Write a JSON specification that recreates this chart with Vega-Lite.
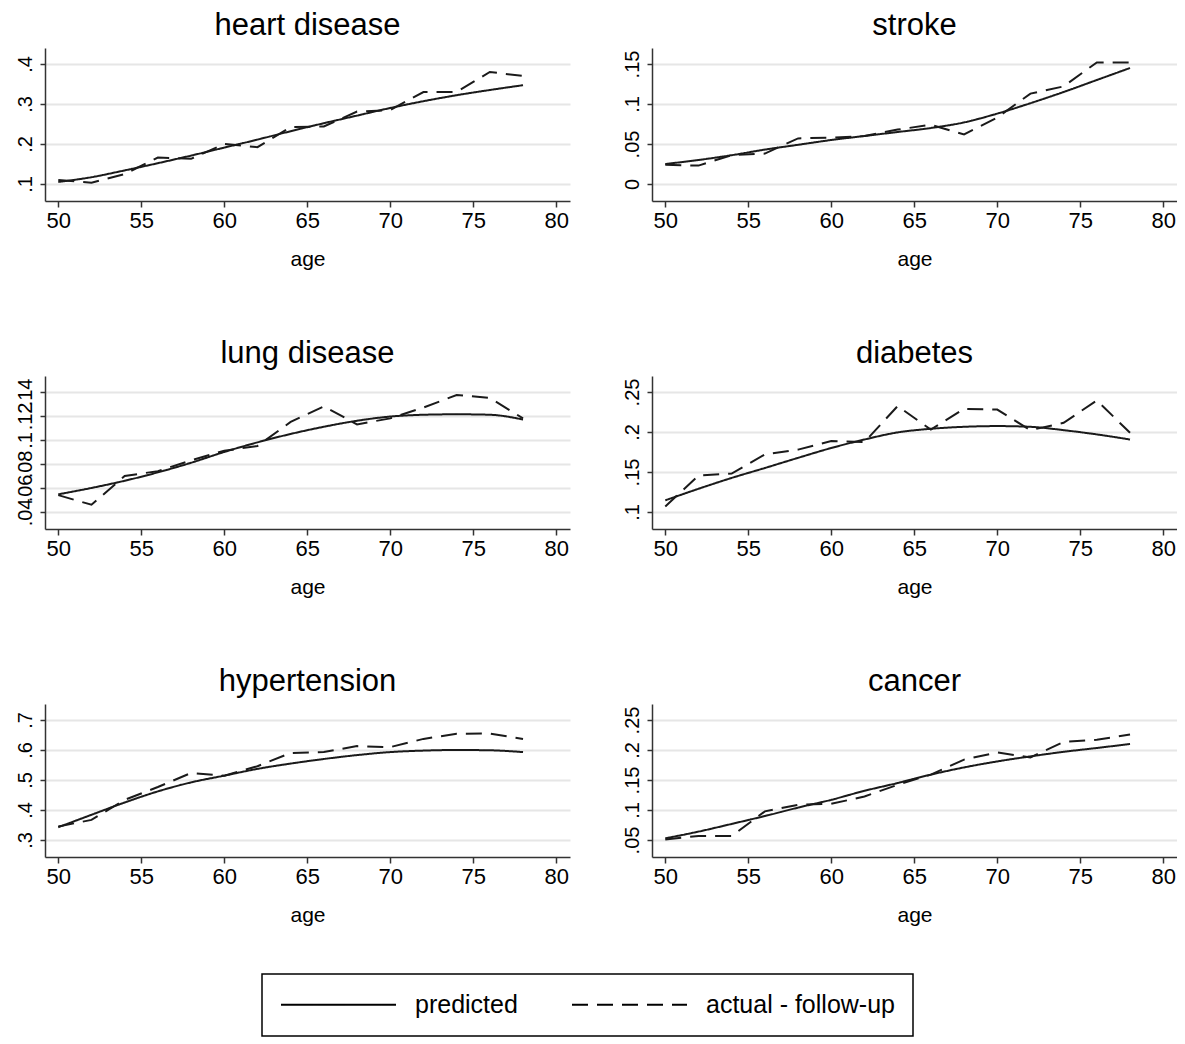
{
  "$schema": "https://vega.github.io/schema/vega-lite/v6.json",
  "padding": {"left": 15, "top": 10, "right": 0, "bottom": 0},
  "background": "white",
  "data": {"values": [
    {"disease":"heart disease","age":50,"series":"predicted","value":0.105},
    {"disease":"heart disease","age":52,"series":"predicted","value":0.117},
    {"disease":"heart disease","age":54,"series":"predicted","value":0.134},
    {"disease":"heart disease","age":56,"series":"predicted","value":0.152},
    {"disease":"heart disease","age":58,"series":"predicted","value":0.171},
    {"disease":"heart disease","age":60,"series":"predicted","value":0.191},
    {"disease":"heart disease","age":62,"series":"predicted","value":0.211},
    {"disease":"heart disease","age":64,"series":"predicted","value":0.232},
    {"disease":"heart disease","age":66,"series":"predicted","value":0.252},
    {"disease":"heart disease","age":68,"series":"predicted","value":0.271},
    {"disease":"heart disease","age":70,"series":"predicted","value":0.290},
    {"disease":"heart disease","age":72,"series":"predicted","value":0.307},
    {"disease":"heart disease","age":74,"series":"predicted","value":0.322},
    {"disease":"heart disease","age":76,"series":"predicted","value":0.335},
    {"disease":"heart disease","age":78,"series":"predicted","value":0.347},
    {"disease":"heart disease","age":50,"series":"actual - follow-up","value":0.110},
    {"disease":"heart disease","age":52,"series":"actual - follow-up","value":0.103},
    {"disease":"heart disease","age":54,"series":"actual - follow-up","value":0.125},
    {"disease":"heart disease","age":56,"series":"actual - follow-up","value":0.166},
    {"disease":"heart disease","age":58,"series":"actual - follow-up","value":0.163},
    {"disease":"heart disease","age":60,"series":"actual - follow-up","value":0.200},
    {"disease":"heart disease","age":62,"series":"actual - follow-up","value":0.192},
    {"disease":"heart disease","age":64,"series":"actual - follow-up","value":0.242},
    {"disease":"heart disease","age":66,"series":"actual - follow-up","value":0.244},
    {"disease":"heart disease","age":68,"series":"actual - follow-up","value":0.281},
    {"disease":"heart disease","age":70,"series":"actual - follow-up","value":0.285},
    {"disease":"heart disease","age":72,"series":"actual - follow-up","value":0.330},
    {"disease":"heart disease","age":74,"series":"actual - follow-up","value":0.330},
    {"disease":"heart disease","age":76,"series":"actual - follow-up","value":0.380},
    {"disease":"heart disease","age":78,"series":"actual - follow-up","value":0.370},

    {"disease":"stroke","age":50,"series":"predicted","value":0.025},
    {"disease":"stroke","age":52,"series":"predicted","value":0.030},
    {"disease":"stroke","age":54,"series":"predicted","value":0.036},
    {"disease":"stroke","age":56,"series":"predicted","value":0.043},
    {"disease":"stroke","age":58,"series":"predicted","value":0.049},
    {"disease":"stroke","age":60,"series":"predicted","value":0.055},
    {"disease":"stroke","age":62,"series":"predicted","value":0.060},
    {"disease":"stroke","age":64,"series":"predicted","value":0.065},
    {"disease":"stroke","age":66,"series":"predicted","value":0.070},
    {"disease":"stroke","age":68,"series":"predicted","value":0.077},
    {"disease":"stroke","age":70,"series":"predicted","value":0.088},
    {"disease":"stroke","age":72,"series":"predicted","value":0.101},
    {"disease":"stroke","age":74,"series":"predicted","value":0.115},
    {"disease":"stroke","age":76,"series":"predicted","value":0.130},
    {"disease":"stroke","age":78,"series":"predicted","value":0.145},
    {"disease":"stroke","age":50,"series":"actual - follow-up","value":0.024},
    {"disease":"stroke","age":52,"series":"actual - follow-up","value":0.023},
    {"disease":"stroke","age":54,"series":"actual - follow-up","value":0.036},
    {"disease":"stroke","age":56,"series":"actual - follow-up","value":0.038},
    {"disease":"stroke","age":58,"series":"actual - follow-up","value":0.057},
    {"disease":"stroke","age":60,"series":"actual - follow-up","value":0.058},
    {"disease":"stroke","age":62,"series":"actual - follow-up","value":0.060},
    {"disease":"stroke","age":64,"series":"actual - follow-up","value":0.068},
    {"disease":"stroke","age":66,"series":"actual - follow-up","value":0.074},
    {"disease":"stroke","age":68,"series":"actual - follow-up","value":0.062},
    {"disease":"stroke","age":70,"series":"actual - follow-up","value":0.083},
    {"disease":"stroke","age":72,"series":"actual - follow-up","value":0.113},
    {"disease":"stroke","age":74,"series":"actual - follow-up","value":0.122},
    {"disease":"stroke","age":76,"series":"actual - follow-up","value":0.152},
    {"disease":"stroke","age":78,"series":"actual - follow-up","value":0.152},

    {"disease":"lung disease","age":50,"series":"predicted","value":0.0547},
    {"disease":"lung disease","age":52,"series":"predicted","value":0.060},
    {"disease":"lung disease","age":54,"series":"predicted","value":0.066},
    {"disease":"lung disease","age":56,"series":"predicted","value":0.073},
    {"disease":"lung disease","age":58,"series":"predicted","value":0.081},
    {"disease":"lung disease","age":60,"series":"predicted","value":0.090},
    {"disease":"lung disease","age":62,"series":"predicted","value":0.098},
    {"disease":"lung disease","age":64,"series":"predicted","value":0.105},
    {"disease":"lung disease","age":66,"series":"predicted","value":0.111},
    {"disease":"lung disease","age":68,"series":"predicted","value":0.116},
    {"disease":"lung disease","age":70,"series":"predicted","value":0.1195},
    {"disease":"lung disease","age":72,"series":"predicted","value":0.121},
    {"disease":"lung disease","age":74,"series":"predicted","value":0.1214},
    {"disease":"lung disease","age":76,"series":"predicted","value":0.121},
    {"disease":"lung disease","age":78,"series":"predicted","value":0.117},
    {"disease":"lung disease","age":50,"series":"actual - follow-up","value":0.054},
    {"disease":"lung disease","age":52,"series":"actual - follow-up","value":0.046},
    {"disease":"lung disease","age":54,"series":"actual - follow-up","value":0.070},
    {"disease":"lung disease","age":56,"series":"actual - follow-up","value":0.074},
    {"disease":"lung disease","age":58,"series":"actual - follow-up","value":0.083},
    {"disease":"lung disease","age":60,"series":"actual - follow-up","value":0.091},
    {"disease":"lung disease","age":62,"series":"actual - follow-up","value":0.095},
    {"disease":"lung disease","age":64,"series":"actual - follow-up","value":0.115},
    {"disease":"lung disease","age":66,"series":"actual - follow-up","value":0.128},
    {"disease":"lung disease","age":68,"series":"actual - follow-up","value":0.113},
    {"disease":"lung disease","age":70,"series":"actual - follow-up","value":0.118},
    {"disease":"lung disease","age":72,"series":"actual - follow-up","value":0.127},
    {"disease":"lung disease","age":74,"series":"actual - follow-up","value":0.1375},
    {"disease":"lung disease","age":76,"series":"actual - follow-up","value":0.135},
    {"disease":"lung disease","age":78,"series":"actual - follow-up","value":0.118},

    {"disease":"diabetes","age":50,"series":"predicted","value":0.1146},
    {"disease":"diabetes","age":52,"series":"predicted","value":0.129},
    {"disease":"diabetes","age":54,"series":"predicted","value":0.1426},
    {"disease":"diabetes","age":56,"series":"predicted","value":0.155},
    {"disease":"diabetes","age":58,"series":"predicted","value":0.1677},
    {"disease":"diabetes","age":60,"series":"predicted","value":0.180},
    {"disease":"diabetes","age":62,"series":"predicted","value":0.1906},
    {"disease":"diabetes","age":64,"series":"predicted","value":0.1995},
    {"disease":"diabetes","age":66,"series":"predicted","value":0.204},
    {"disease":"diabetes","age":68,"series":"predicted","value":0.2065},
    {"disease":"diabetes","age":70,"series":"predicted","value":0.2074},
    {"disease":"diabetes","age":72,"series":"predicted","value":0.2065},
    {"disease":"diabetes","age":74,"series":"predicted","value":0.2023},
    {"disease":"diabetes","age":76,"series":"predicted","value":0.197},
    {"disease":"diabetes","age":78,"series":"predicted","value":0.1906},
    {"disease":"diabetes","age":50,"series":"actual - follow-up","value":0.107},
    {"disease":"diabetes","age":52,"series":"actual - follow-up","value":0.1455},
    {"disease":"diabetes","age":54,"series":"actual - follow-up","value":0.148},
    {"disease":"diabetes","age":56,"series":"actual - follow-up","value":0.172},
    {"disease":"diabetes","age":58,"series":"actual - follow-up","value":0.178},
    {"disease":"diabetes","age":60,"series":"actual - follow-up","value":0.1886},
    {"disease":"diabetes","age":62,"series":"actual - follow-up","value":0.1873},
    {"disease":"diabetes","age":64,"series":"actual - follow-up","value":0.2324},
    {"disease":"diabetes","age":66,"series":"actual - follow-up","value":0.203},
    {"disease":"diabetes","age":68,"series":"actual - follow-up","value":0.229},
    {"disease":"diabetes","age":70,"series":"actual - follow-up","value":0.228},
    {"disease":"diabetes","age":72,"series":"actual - follow-up","value":0.2023},
    {"disease":"diabetes","age":74,"series":"actual - follow-up","value":0.2115},
    {"disease":"diabetes","age":76,"series":"actual - follow-up","value":0.2395},
    {"disease":"diabetes","age":78,"series":"actual - follow-up","value":0.199},

    {"disease":"hypertension","age":50,"series":"predicted","value":0.3425},
    {"disease":"hypertension","age":52,"series":"predicted","value":0.384},
    {"disease":"hypertension","age":54,"series":"predicted","value":0.425},
    {"disease":"hypertension","age":56,"series":"predicted","value":0.462},
    {"disease":"hypertension","age":58,"series":"predicted","value":0.492},
    {"disease":"hypertension","age":60,"series":"predicted","value":0.5145},
    {"disease":"hypertension","age":62,"series":"predicted","value":0.537},
    {"disease":"hypertension","age":64,"series":"predicted","value":0.5547},
    {"disease":"hypertension","age":66,"series":"predicted","value":0.570},
    {"disease":"hypertension","age":68,"series":"predicted","value":0.583},
    {"disease":"hypertension","age":70,"series":"predicted","value":0.593},
    {"disease":"hypertension","age":72,"series":"predicted","value":0.598},
    {"disease":"hypertension","age":74,"series":"predicted","value":0.600},
    {"disease":"hypertension","age":76,"series":"predicted","value":0.599},
    {"disease":"hypertension","age":78,"series":"predicted","value":0.593},
    {"disease":"hypertension","age":50,"series":"actual - follow-up","value":0.345},
    {"disease":"hypertension","age":52,"series":"actual - follow-up","value":0.367},
    {"disease":"hypertension","age":54,"series":"actual - follow-up","value":0.434},
    {"disease":"hypertension","age":56,"series":"actual - follow-up","value":0.4765},
    {"disease":"hypertension","age":58,"series":"actual - follow-up","value":0.5235},
    {"disease":"hypertension","age":60,"series":"actual - follow-up","value":0.5145},
    {"disease":"hypertension","age":62,"series":"actual - follow-up","value":0.546},
    {"disease":"hypertension","age":64,"series":"actual - follow-up","value":0.590},
    {"disease":"hypertension","age":66,"series":"actual - follow-up","value":0.593},
    {"disease":"hypertension","age":68,"series":"actual - follow-up","value":0.613},
    {"disease":"hypertension","age":70,"series":"actual - follow-up","value":0.6095},
    {"disease":"hypertension","age":72,"series":"actual - follow-up","value":0.637},
    {"disease":"hypertension","age":74,"series":"actual - follow-up","value":0.654},
    {"disease":"hypertension","age":76,"series":"actual - follow-up","value":0.655},
    {"disease":"hypertension","age":78,"series":"actual - follow-up","value":0.637},

    {"disease":"cancer","age":50,"series":"predicted","value":0.0528},
    {"disease":"cancer","age":52,"series":"predicted","value":0.064},
    {"disease":"cancer","age":54,"series":"predicted","value":0.0768},
    {"disease":"cancer","age":56,"series":"predicted","value":0.090},
    {"disease":"cancer","age":58,"series":"predicted","value":0.104},
    {"disease":"cancer","age":60,"series":"predicted","value":0.117},
    {"disease":"cancer","age":62,"series":"predicted","value":0.132},
    {"disease":"cancer","age":64,"series":"predicted","value":0.145},
    {"disease":"cancer","age":66,"series":"predicted","value":0.159},
    {"disease":"cancer","age":68,"series":"predicted","value":0.171},
    {"disease":"cancer","age":70,"series":"predicted","value":0.181},
    {"disease":"cancer","age":72,"series":"predicted","value":0.1894},
    {"disease":"cancer","age":74,"series":"predicted","value":0.197},
    {"disease":"cancer","age":76,"series":"predicted","value":0.2034},
    {"disease":"cancer","age":78,"series":"predicted","value":0.210},
    {"disease":"cancer","age":50,"series":"actual - follow-up","value":0.051},
    {"disease":"cancer","age":52,"series":"actual - follow-up","value":0.0567},
    {"disease":"cancer","age":54,"series":"actual - follow-up","value":0.0567},
    {"disease":"cancer","age":56,"series":"actual - follow-up","value":0.0978},
    {"disease":"cancer","age":58,"series":"actual - follow-up","value":0.1087},
    {"disease":"cancer","age":60,"series":"actual - follow-up","value":0.1103},
    {"disease":"cancer","age":62,"series":"actual - follow-up","value":0.1226},
    {"disease":"cancer","age":64,"series":"actual - follow-up","value":0.142},
    {"disease":"cancer","age":66,"series":"actual - follow-up","value":0.159},
    {"disease":"cancer","age":68,"series":"actual - follow-up","value":0.184},
    {"disease":"cancer","age":70,"series":"actual - follow-up","value":0.196},
    {"disease":"cancer","age":72,"series":"actual - follow-up","value":0.1877},
    {"disease":"cancer","age":74,"series":"actual - follow-up","value":0.2134},
    {"disease":"cancer","age":76,"series":"actual - follow-up","value":0.217},
    {"disease":"cancer","age":78,"series":"actual - follow-up","value":0.2257}
  ]},
  "columns": 2,
  "bounds": "flush",
  "spacing": {"row": 175, "column": 82},
  "resolve": {"scale": {"x": "independent", "y": "independent", "strokeDash": "shared"}, "axis": {"x": "independent", "y": "independent"}, "legend": {"strokeDash": "shared"}},
  "concat": [
    {
      "title": "heart disease", "width": 525, "height": 153,
      "transform": [{"filter": "datum.disease === 'heart disease'"}],
      "encoding": {
        "x": {"field": "age", "type": "quantitative", "scale": {"domain": [49.2, 80.83], "nice": false, "zero": false}, "axis": {"values": [50,55,60,65,70,75,80], "title": "age", "grid": false}},
        "y": {"field": "value", "type": "quantitative", "scale": {"domain": [0.0575, 0.44], "nice": false, "zero": false}, "axis": {"values": [0.1,0.2,0.3,0.4], "title": null, "labelExpr": "datum.value === 0 ? '0' : replace(format(datum.value, '.2~f'), '0.', '.')"}},
        "strokeDash": {"field": "series", "type": "nominal", "scale": {"domain": ["predicted", "actual - follow-up"], "range": [[1,0],[16,9]]}, "legend": {"orient": "none", "legendX": 217, "legendY": 926, "direction": "horizontal", "title": null}}
      },
      "layer": [
        {"transform": [{"filter": "datum.series === 'predicted'"}], "mark": {"type": "line", "interpolate": "monotone"}},
        {"transform": [{"filter": "datum.series !== 'predicted'"}], "mark": {"type": "line"}}
      ]
    },
    {
      "title": "stroke", "width": 525, "height": 153,
      "transform": [{"filter": "datum.disease === 'stroke'"}],
      "encoding": {
        "x": {"field": "age", "type": "quantitative", "scale": {"domain": [49.2, 80.83], "nice": false, "zero": false}, "axis": {"values": [50,55,60,65,70,75,80], "title": "age", "grid": false}},
        "y": {"field": "value", "type": "quantitative", "scale": {"domain": [-0.02125, 0.17], "nice": false, "zero": false}, "axis": {"values": [0,0.05,0.1,0.15], "title": null, "labelExpr": "datum.value === 0 ? '0' : replace(format(datum.value, '.2~f'), '0.', '.')"}},
        "strokeDash": {"field": "series", "type": "nominal", "scale": {"domain": ["predicted", "actual - follow-up"], "range": [[1,0],[16,9]]}}
      },
      "layer": [
        {"transform": [{"filter": "datum.series === 'predicted'"}], "mark": {"type": "line", "interpolate": "monotone"}},
        {"transform": [{"filter": "datum.series !== 'predicted'"}], "mark": {"type": "line"}}
      ]
    },
    {
      "title": "lung disease", "width": 525, "height": 153,
      "transform": [{"filter": "datum.disease === 'lung disease'"}],
      "encoding": {
        "x": {"field": "age", "type": "quantitative", "scale": {"domain": [49.2, 80.83], "nice": false, "zero": false}, "axis": {"values": [50,55,60,65,70,75,80], "title": "age", "grid": false}},
        "y": {"field": "value", "type": "quantitative", "scale": {"domain": [0.0258, 0.1533], "nice": false, "zero": false}, "axis": {"values": [0.04,0.06,0.08,0.1,0.12,0.14], "title": null, "labelExpr": "datum.value === 0 ? '0' : replace(format(datum.value, '.2~f'), '0.', '.')"}},
        "strokeDash": {"field": "series", "type": "nominal", "scale": {"domain": ["predicted", "actual - follow-up"], "range": [[1,0],[16,9]]}}
      },
      "layer": [
        {"transform": [{"filter": "datum.series === 'predicted'"}], "mark": {"type": "line", "interpolate": "monotone"}},
        {"transform": [{"filter": "datum.series !== 'predicted'"}], "mark": {"type": "line"}}
      ]
    },
    {
      "title": "diabetes", "width": 525, "height": 153,
      "transform": [{"filter": "datum.disease === 'diabetes'"}],
      "encoding": {
        "x": {"field": "age", "type": "quantitative", "scale": {"domain": [49.2, 80.83], "nice": false, "zero": false}, "axis": {"values": [50,55,60,65,70,75,80], "title": "age", "grid": false}},
        "y": {"field": "value", "type": "quantitative", "scale": {"domain": [0.07875, 0.27], "nice": false, "zero": false}, "axis": {"values": [0.1,0.15,0.2,0.25], "title": null, "labelExpr": "datum.value === 0 ? '0' : replace(format(datum.value, '.2~f'), '0.', '.')"}},
        "strokeDash": {"field": "series", "type": "nominal", "scale": {"domain": ["predicted", "actual - follow-up"], "range": [[1,0],[16,9]]}}
      },
      "layer": [
        {"transform": [{"filter": "datum.series === 'predicted'"}], "mark": {"type": "line", "interpolate": "monotone"}},
        {"transform": [{"filter": "datum.series !== 'predicted'"}], "mark": {"type": "line"}}
      ]
    },
    {
      "title": "hypertension", "width": 525, "height": 153,
      "transform": [{"filter": "datum.disease === 'hypertension'"}],
      "encoding": {
        "x": {"field": "age", "type": "quantitative", "scale": {"domain": [49.2, 80.83], "nice": false, "zero": false}, "axis": {"values": [50,55,60,65,70,75,80], "title": "age", "grid": false}},
        "y": {"field": "value", "type": "quantitative", "scale": {"domain": [0.2433, 0.7533], "nice": false, "zero": false}, "axis": {"values": [0.3,0.4,0.5,0.6,0.7], "title": null, "labelExpr": "datum.value === 0 ? '0' : replace(format(datum.value, '.2~f'), '0.', '.')"}},
        "strokeDash": {"field": "series", "type": "nominal", "scale": {"domain": ["predicted", "actual - follow-up"], "range": [[1,0],[16,9]]}}
      },
      "layer": [
        {"transform": [{"filter": "datum.series === 'predicted'"}], "mark": {"type": "line", "interpolate": "monotone"}},
        {"transform": [{"filter": "datum.series !== 'predicted'"}], "mark": {"type": "line"}}
      ]
    },
    {
      "title": "cancer", "width": 525, "height": 153,
      "transform": [{"filter": "datum.disease === 'cancer'"}],
      "encoding": {
        "x": {"field": "age", "type": "quantitative", "scale": {"domain": [49.2, 80.83], "nice": false, "zero": false}, "axis": {"values": [50,55,60,65,70,75,80], "title": "age", "grid": false}},
        "y": {"field": "value", "type": "quantitative", "scale": {"domain": [0.0217, 0.2767], "nice": false, "zero": false}, "axis": {"values": [0.05,0.1,0.15,0.2,0.25], "title": null, "labelExpr": "datum.value === 0 ? '0' : replace(format(datum.value, '.2~f'), '0.', '.')"}},
        "strokeDash": {"field": "series", "type": "nominal", "scale": {"domain": ["predicted", "actual - follow-up"], "range": [[1,0],[16,9]]}}
      },
      "layer": [
        {"transform": [{"filter": "datum.series === 'predicted'"}], "mark": {"type": "line", "interpolate": "monotone"}},
        {"transform": [{"filter": "datum.series !== 'predicted'"}], "mark": {"type": "line"}}
      ]
    }
  ],
  "config": {
    "view": {"stroke": null},
    "font": "Liberation Sans, sans-serif",
    "line": {"color": "#1a1a1a", "strokeWidth": 2},
    "axis": {"domainColor": "#333333", "domainWidth": 1.5, "tickColor": "#333333", "tickWidth": 1.5, "labelColor": "#000000", "titleColor": "#000000", "gridColor": "#e6e6e6", "gridWidth": 2, "labelFlush": false, "labelOverlap": false},
    "axisX": {"tickSize": 6, "labelFontSize": 22, "labelPadding": 3, "titleFontSize": 21, "titleFontWeight": "normal", "titlePadding": 17, "labelFont": "Liberation Sans, sans-serif", "titleFont": "Liberation Sans, sans-serif"},
    "axisY": {"tickSize": 5, "labelAngle": -90, "labelAlign": "center", "labelBaseline": "bottom", "labelFontSize": 20, "labelFont": "Liberation Sans, sans-serif", "labelPadding": 5, "grid": true},
    "title": {"fontSize": 31, "fontWeight": "normal", "anchor": "middle", "offset": 6, "color": "#000000", "font": "Liberation Sans, sans-serif"},
    "legend": {"strokeColor": "#000000", "strokeWidth": 1.5, "padding": 18, "symbolType": "M-1,0H9", "symbolSize": 529, "symbolStrokeWidth": 2.5, "symbolStrokeColor": "#000000", "labelFontSize": 25, "labelLimit": 500, "labelFont": "Liberation Sans, sans-serif", "labelColor": "#000000", "labelOffset": 110, "columnPadding": 50}
  }
}
